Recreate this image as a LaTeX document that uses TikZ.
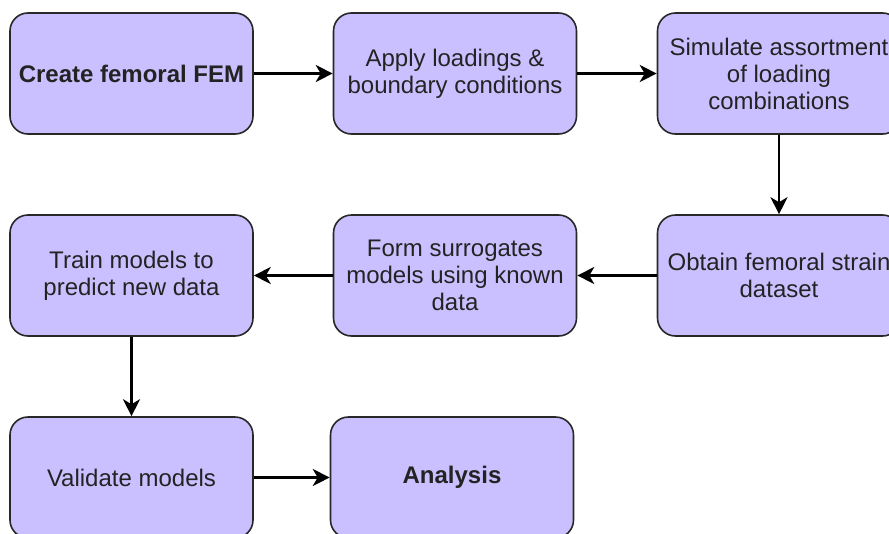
\documentclass[tikz,border=0pt]{standalone}
\usepackage{fontspec}
\setmainfont{Liberation Sans}
\usetikzlibrary{arrows.meta}
\definecolor{boxfill}{RGB}{202,192,255}
\definecolor{boxline}{RGB}{40,40,40}
\definecolor{txt}{RGB}{35,35,35}
\tikzset{
  box/.style={draw=boxline, fill=boxfill, line width=1.6pt, rounded corners=18pt,
    minimum width=243pt, minimum height=121pt, inner sep=0pt, align=center,
    text=txt, font=\fontsize{24}{27}\selectfont},
  conn/.style={line width=2.2pt, draw=black, -{Stealth[length=17pt,width=17pt,inset=5pt]}}
}
\begin{document}
\begin{tikzpicture}[x=1pt,y=-1pt]
\useasboundingbox (0,0) rectangle (889,533);
\clip (0,0) rectangle (889,533);
\fill[white] (0,0) rectangle (889,533);
\node[box] (create) at (131.5,73.5) {\textbf{Create femoral FEM}};
\node[box] (apply) at (455,73.5) {Apply loadings \&\\boundary conditions};
\node[box] (sim) at (779,73.5) {Simulate assortment\\of loading\\combinations};
\node[box] (obtain) at (779,275.5) {Obtain femoral strain\\dataset};
\node[box] (form) at (455,275.5) {Form surrogates\\models using known\\data};
\node[box] (train) at (131.5,275.5) {Train models to\\predict new data};
\node[box] (valid) at (131.5,477.5) {Validate models};
\node[box] (anal) at (452,477.5) {\textbf{Analysis}\vphantom{y}};
\draw[conn] (create) -- (apply);
\draw[conn] (apply) -- (sim);
\draw[conn] (sim) -- (obtain);
\draw[conn] (obtain) -- (form);
\draw[conn] (form) -- (train);
\draw[conn] (train) -- (valid);
\draw[conn] (valid) -- (anal);
\end{tikzpicture}
\end{document}
